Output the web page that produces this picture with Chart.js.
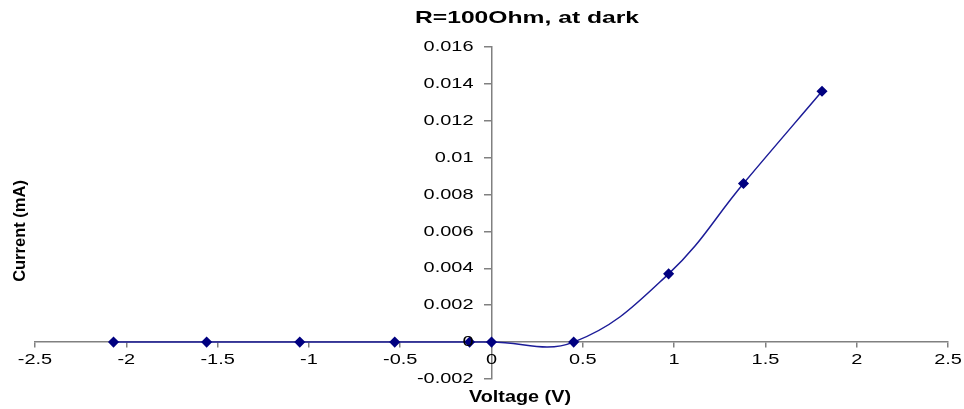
<!DOCTYPE html>
<html>
<head>
<meta charset="utf-8">
<script src="https://cdn.jsdelivr.net/npm/chart.js@4"></script>
<style>
  html, body { margin: 0; padding: 0; background: #fff; }
  #wrap { width: 964px; height: 409px; }
</style>
</head>
<body>
<div id="wrap"><canvas id="myChart" width="964" height="409"></canvas></div>
<script>
// values
const voltage = [-2.07, -1.56, -1.05, -0.53, -0.12, 0, 0.45, 0.97, 1.38, 1.81];
const current = [0, 0, 0, 0, 0, 0, 0, 0.0037, 0.0086, 0.0136];
const xTicks = [-2.5, -2, -1.5, -1, -0.5, 0, 0.5, 1, 1.5, 2, 2.5];
const yTicks = [-0.002, 0, 0.002, 0.004, 0.006, 0.008, 0.01, 0.012, 0.014, 0.016];

const chartTitle = 'R=100Ohm, at dark';
const xTitle = 'Voltage (V)';
const yTitle = 'Current (mA)';

const axisGrey = '#808080';
const navy = '#000080';
const FONT = '"Liberation Sans", Arial, sans-serif';

// text in the original is drawn wide, so stretch it sideways
function wideText(ctx, text, x, y, sx, align) {
  ctx.save();
  ctx.translate(x, y);
  ctx.scale(sx, 1);
  ctx.textAlign = align;
  ctx.fillText(text, 0, 0);
  ctx.restore();
}

// labels and titles sit away from the centred axes, so draw them here
const labelsPlugin = {
  id: 'labels',
  afterDraw(chart) {
    const ctx = chart.ctx;
    const xs = chart.scales.x;
    const ys = chart.scales.y;
    const x0 = xs.getPixelForValue(0);
    const y0 = ys.getPixelForValue(0);
    ctx.save();
    ctx.fillStyle = '#000';

    // tick labels
    ctx.font = '15px ' + FONT;
    ctx.textBaseline = 'middle';
    yTicks.forEach(v => {
      wideText(ctx, String(v), x0 - 18, ys.getPixelForValue(v), 1.33, 'right');
    });
    xTicks.forEach(v => {
      wideText(ctx, String(v), xs.getPixelForValue(v), y0 + 18, 1.33, 'center');
    });

    // titles
    ctx.textBaseline = 'alphabetic';
    ctx.font = 'bold 17px ' + FONT;
    wideText(ctx, chartTitle, 527, 23, 1.45, 'center');
    ctx.font = 'bold 16.5px ' + FONT;
    wideText(ctx, xTitle, 520, 402, 1.2, 'center');
    ctx.translate(25, 231);
    ctx.rotate(-Math.PI / 2);
    ctx.textAlign = 'center';
    ctx.fillText(yTitle, 0, 0);
    ctx.restore();
  }
};

const myChartRef = document.getElementById('myChart').getContext('2d');

new Chart(myChartRef, {
  type: 'line',
  data: {
    datasets: [
      {
        label: 'series',
        data: voltage.map((v, i) => ({ x: v, y: current[i] })),
        borderColor: '#1c1c98',
        backgroundColor: navy,
        borderWidth: 1.5,
        tension: 0.4,
        pointStyle: 'rectRot',
        pointRadius: 4.5,
        pointBackgroundColor: navy,
        pointBorderColor: navy,
        fill: false
      }
    ]
  },
  options: {
    responsive: false,
    animation: false,
    layout: { padding: { left: 35, right: 16, top: 47, bottom: 30 } },
    plugins: {
      legend: { display: false },
      tooltip: { enabled: false },
      title: { display: false }
    },
    scales: {
      x: {
        type: 'linear',
        position: { y: 0 },
        min: -2.5,
        max: 2.5,
        afterFit(scale) { scale.height = 0; },
        afterBuildTicks(scale) { scale.ticks = xTicks.map(v => ({ value: v })); },
        grid: { drawOnChartArea: false, drawTicks: true, tickLength: 5, color: axisGrey, lineWidth: 1.5 },
        border: { color: axisGrey, width: 1.5 },
        ticks: { display: false }
      },
      y: {
        type: 'linear',
        position: { x: 0 },
        min: -0.002,
        max: 0.016,
        afterFit(scale) { scale.width = 0; },
        afterBuildTicks(scale) { scale.ticks = yTicks.map(v => ({ value: v })); },
        grid: { drawOnChartArea: false, drawTicks: true, tickLength: 7, color: axisGrey, lineWidth: 1.5 },
        border: { color: axisGrey, width: 1.5 },
        ticks: { display: false }
      }
    }
  },
  plugins: [labelsPlugin]
});
</script>
</body>
</html>
